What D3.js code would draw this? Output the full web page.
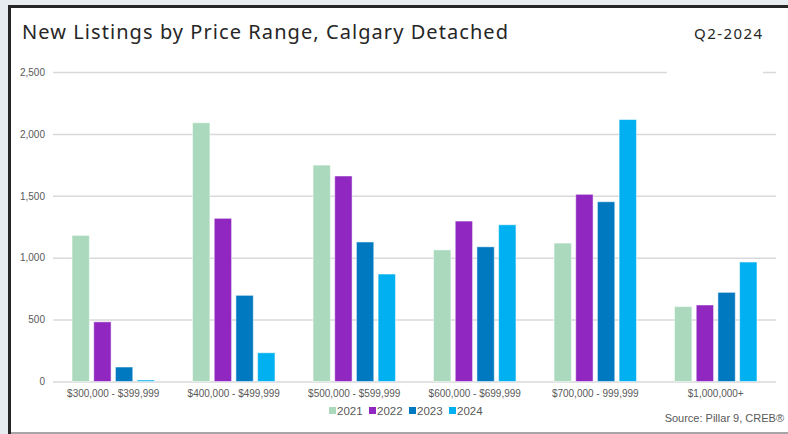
<!DOCTYPE html>
<meta charset="utf-8">
<style>
body { margin: 0; background: #e6ecf0; }
svg { display: block; }
.tick text { font-family: "Liberation Sans", Arial, sans-serif; font-size: 10px; fill: #595959; }
</style>
<body>
<svg width="788" height="434"></svg>
<script src="https://d3js.org/d3.v7.min.js"></script>
<script>

var categories = ["$300,000 - $399,999", "$400,000 - $499,999", "$500,000 - $599,999",
                  "$600,000 - $699,999", "$700,000 - 999,999", "$1,000,000+"];
var years = ["2021", "2022", "2023", "2024"];
var colors = ["#abd9bd", "#8f27c0", "#0079c1", "#00b0f0"];
var v2021 = [1180, 2090, 1748, 1063, 1118, 605];
var v2022 = [482, 1318, 1660, 1296, 1512, 618];
var v2023 = [117, 696, 1127, 1088, 1452, 720];
var v2024 = [12, 232, 868, 1266, 2116, 965];
var yTicks = [0, 500, 1000, 1500, 2000, 2500];

var series = [v2021, v2022, v2023, v2024];
var data = categories.map(function(c, i) {
    return { cat: c, vals: years.map(function(yr, j) { return { year: yr, value: series[j][i], color: colors[j] }; }) };
});

var svg = d3.select("svg");

// panel
svg.append("rect").attr("x", 9).attr("y", 6).attr("width", 800).attr("height", 426).attr("fill", "#fff");
svg.append("line").attr("x1", 9.5).attr("x2", 9.5).attr("y1", 5).attr("y2", 434).attr("stroke", "#262626").attr("stroke-width", 3);
svg.append("line").attr("x1", 8).attr("x2", 788).attr("y1", 6.5).attr("y2", 6.5).attr("stroke", "#262626").attr("stroke-width", 3);
svg.append("line").attr("x1", 11).attr("x2", 788).attr("y1", 433).attr("y2", 433).attr("stroke", "#a6a6a6").attr("stroke-width", 2);

var plotL = 53, plotR = 776, plotT = 72, plotB = 381.5;

var x0 = d3.scaleBand().domain(categories).range([plotL, plotR]).paddingInner(0.28).paddingOuter(0.14);
var x1 = d3.scaleBand().domain(years).range([0, x0.bandwidth()]).paddingInner(0.2).paddingOuter(0.1);
var y = d3.scaleLinear().domain([0, 2500]).range([plotB, plotT]);

// grid + y labels
svg.append("g")
    .attr("transform", "translate(" + plotL + ",0)")
    .call(d3.axisLeft(y).tickValues(yTicks).tickFormat(d3.format(",")).tickSize(-(plotR - plotL)).tickPadding(8))
    .call(function(g) {
        g.select(".domain").remove();
        g.selectAll(".tick line").attr("stroke", "#d9d9d9").attr("stroke-width", 1.5);
    });

// white box behind the period label
svg.append("rect").attr("x", 667).attr("y", 20).attr("width", 96).attr("height", 56).attr("fill", "#fff");

// bars
var groups = svg.append("g").selectAll("g").data(data).enter().append("g")
    .attr("transform", function(d) { return "translate(" + x0(d.cat) + ",0)"; });
groups.selectAll("rect").data(function(d) { return d.vals; }).enter().append("rect")
    .attr("x", function(d) { return x1(d.year); })
    .attr("y", function(d) { return y(d.value); })
    .attr("width", x1.bandwidth())
    .attr("height", function(d) { return plotB - y(d.value); })
    .attr("fill", function(d) { return d.color; })
    .attr("stroke", "#fff").attr("stroke-opacity", 0.5).attr("stroke-width", 1);

// x axis labels
svg.append("g")
    .attr("transform", "translate(0," + plotB + ")")
    .call(d3.axisBottom(x0).tickSize(0).tickPadding(8))
    .call(function(g) { g.select(".domain").remove(); });

// title
svg.append("text").attr("x", 22).attr("y", 39)
    .attr("textLength", 486).attr("lengthAdjust", "spacing")
    .style("font-family", "'Noto Sans', sans-serif").style("font-size", "20px").style("fill", "#262626")
    .text("New Listings by Price Range, Calgary Detached");
svg.append("text").attr("x", 694).attr("y", 39)
    .attr("textLength", 68).attr("lengthAdjust", "spacing")
    .style("font-family", "'Noto Sans', sans-serif").style("font-size", "15px").style("fill", "#262626")
    .text("Q2-2024");

// legend
var legend = svg.append("g").attr("transform", "translate(329,411)");
var lx = 0;
years.forEach(function(yr, i) {
    legend.append("rect").attr("x", lx).attr("y", -4).attr("width", 7).attr("height", 7).attr("fill", colors[i]);
    legend.append("text").attr("x", lx + 8).attr("y", 4)
        .style("font-family", "'Liberation Sans', Arial, sans-serif").style("font-size", "11.5px").style("fill", "#595959")
        .text(yr);
    lx += 40;
});

svg.append("text").attr("x", 784).attr("y", 422).attr("text-anchor", "end")
    .style("font-family", "'Liberation Sans', Arial, sans-serif").style("font-size", "11px").style("fill", "#595959")
    .text("Source: Pillar 9, CREB®");

</script>
